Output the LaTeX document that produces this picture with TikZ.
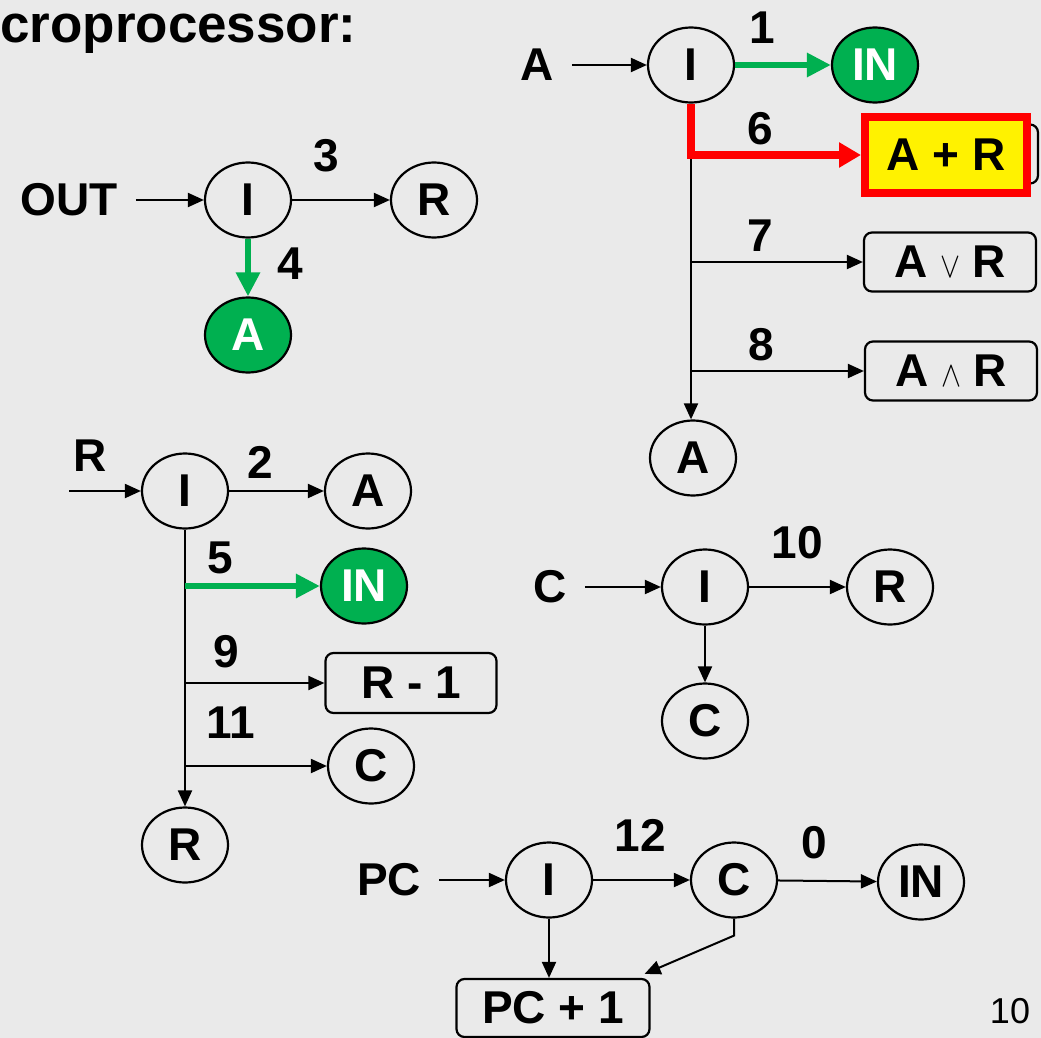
\documentclass[tikz,border=0pt]{standalone}
\usepackage{fontspec}
\setmainfont{Liberation Sans}
\usetikzlibrary{shapes.geometric, arrows.meta}
\definecolor{slidebg}{HTML}{EAEAEA}
\definecolor{okgreen}{HTML}{00B050}
\newcommand{\bigbf}{\fontsize{46}{50}\selectfont\bfseries}
\newcommand{\thinop}[1]{\scalebox{3.0}[3.6]{\normalsize$#1$}}

\begin{document}
\begin{tikzpicture}[x=1pt, y=-1pt,
    state/.style={ellipse, draw, line width=2.2pt, minimum width=86pt, minimum height=75pt, inner sep=0pt, font=\bigbf},
    hot/.style={state, fill=okgreen, text=white},
    op/.style={rectangle, draw, rounded corners=8pt, line width=2.2pt, minimum width=172pt, minimum height=59pt, inner sep=0pt, font=\bigbf},
    sum/.style={rectangle, draw=red, fill=yellow, line width=8pt, minimum width=162pt, minimum height=76pt, inner sep=0pt, font=\bigbf},
    txt/.style={inner sep=0pt, font=\bigbf},
    arrow/.style={-{Triangle[length=16pt, width=14pt]}, line width=2pt},
    feed/.style={arrow, shorten <=18pt},
    go/.style={-{Triangle[length=24pt, width=23pt]}, line width=6pt, okgreen},
    hit/.style={-{Triangle[length=22pt, width=24pt]}, line width=8pt, red}
]
    \fill[slidebg] (0,0) rectangle (1041,1038);
    \useasboundingbox (0,0) rectangle (1041,1038);

    % Title
    \node[anchor=base west, inner sep=0pt, font=\fontsize{53}{60}\selectfont\bfseries] (title) at (0,43) {croprocessor:};

    % OUT
    \node[txt] (outT) at (69,200) {OUT};
    \node[state] (iOut) at (248,200) {I};
    \node[state] (rOut) at (434,200) {R};
    \node[hot] (aOut) at (248,335) {A};
    \node[txt] (n3) at (326,156) {3};
    \node[txt] (n4) at (290,264) {4};
    \draw[feed] (outT) -- (iOut);
    \draw[arrow] (iOut) -- (rOut);
    \draw[go] (iOut) -- (aOut);

    % A
    \node[txt] (aT) at (537,65) {A};
    \node[state] (iA) at (691,65) {I};
    \node[hot] (inA) at (875,65) {IN};
    \node[op] (apBack) at (952,154) {};
    \node[sum] (apr) at (946,155) {A + R};
    \node[op] (aor) at (950,262) {A \thinop{\vee} R};
    \node[op] (aand) at (951,371) {A \thinop{\wedge} R};
    \node[state] (aA) at (693,458) {A};
    \node[txt] (n1) at (762,28) {1};
    \node[txt] (n6) at (760,129) {6};
    \node[txt] (n7) at (760,236) {7};
    \node[txt] (n8) at (761,345) {8};
    \draw[feed] (aT) -- (iA);
    \draw[go] (iA) -- (inA);
    \draw[arrow] (iA.south) -- (iA.south |- aA.north);
    \draw[hit] (iA.south) |- (apr.west);
    \draw[arrow] (iA.south |- aor.west) -- (aor.west);
    \draw[arrow] (iA.south |- aand.west) -- (aand.west);

    % R
    \coordinate (rIn) at (69,491);
    \node[txt] (rT) at (90,456) {R};
    \node[state] (iR) at (185,491) {I};
    \node[state] (aR) at (368,491) {A};
    \node[hot] (inR) at (364,586) {IN};
    \node[op, minimum width=171pt, minimum height=60pt] (rm1) at (411,683) {R - 1};
    \node[state] (cR) at (371,766) {C};
    \node[state] (rR) at (185,845) {R};
    \node[txt] (n2) at (260,462) {2};
    \node[txt] (n5) at (220,558) {5};
    \node[txt] (n9) at (226,652) {9};
    \node[txt] (n11) at (231,723) {11};
    \draw[arrow] (rIn) -- (iR);
    \draw[arrow] (iR) -- (aR);
    \draw[arrow] (iR) -- (rR);
    \draw[go] (iR.south |- inR.west) -- (inR.west);
    \draw[arrow] (iR.south |- rm1.west) -- (rm1.west);
    \draw[arrow] (iR.south |- cR.west) -- (cR.west);

    % C
    \node[txt] (cT) at (550,587) {C};
    \node[state] (iC) at (705,587) {I};
    \node[state] (rC) at (890,587) {R};
    \node[state] (cC) at (705,721) {C};
    \node[txt] (n10) at (797,543) {10};
    \draw[feed] (cT) -- (iC);
    \draw[arrow] (iC) -- (rC);
    \draw[arrow] (iC) -- (cC);

    % PC
    \node[txt] (pcT) at (389,880) {PC};
    \node[state] (iPC) at (549,880) {I};
    \node[state] (cPC) at (734,880) {C};
    \node[state] (inPC) at (921,882) {IN};
    \node[op, minimum width=193pt, minimum height=58pt] (pc1) at (553,1008) {PC + 1};
    \node[txt] (n12) at (640,835) {12};
    \node[txt] (n0) at (814,843) {0};
    \draw[feed] (pcT) -- (iPC);
    \draw[arrow] (iPC) -- (cPC);
    \draw[arrow] (cPC) -- (inPC);
    \draw[arrow] (iPC) -- (iPC |- pc1.north);
    \draw[arrow] (cPC.south) -- ++(0,17) -- ([xshift=-6pt, yshift=4pt]pc1.north east);

    % page number
    \node[inner sep=0pt, font=\fontsize{36}{40}\selectfont] (pageno) at (1010,1011) {10};
\end{tikzpicture}
\end{document}
